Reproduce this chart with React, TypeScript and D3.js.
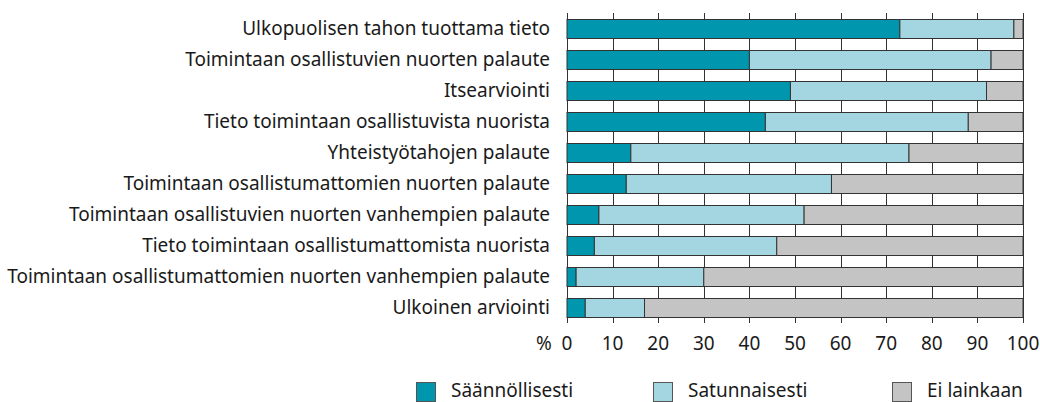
import React, { useEffect, useRef } from 'react';
import * as d3 from 'd3';

const categories = [
  'Ulkopuolisen tahon tuottama tieto',
  'Toimintaan osallistuvien nuorten palaute',
  'Itsearviointi',
  'Tieto toimintaan osallistuvista nuorista',
  'Yhteistyötahojen palaute',
  'Toimintaan osallistumattomien nuorten palaute',
  'Toimintaan osallistuvien nuorten vanhempien palaute',
  'Tieto toimintaan osallistumattomista nuorista',
  'Toimintaan osallistumattomien nuorten vanhempien palaute',
  'Ulkoinen arviointi',
];

const seriesNames = ['Säännöllisesti', 'Satunnaisesti', 'Ei lainkaan'];

const saannollisesti = [73, 40, 49, 43.5, 14, 13, 7, 6, 2, 4];
const satunnaisesti = [25, 53, 43, 44.5, 61, 45, 45, 40, 28, 13];
const eiLainkaan = [2, 7, 8, 12, 25, 42, 48, 54, 70, 83];

const xTicks = [0, 10, 20, 30, 40, 50, 60, 70, 80, 90, 100];

const colors = ['#0097ae', '#a3d6e0', '#c4c4c4'];

const FONT = "'Noto Sans', sans-serif";

function App() {
  const ref = useRef<SVGSVGElement | null>(null);

  useEffect(() => {
    const width = 1040;
    const height = 402;
    const margin = { top: 13, left: 567, right: 17, bottom: 79 };
    const w = width - margin.left - margin.right;
    const h = height - margin.top - margin.bottom;

    const svg = d3.select(ref.current);
    svg.selectAll('*').remove();
    svg.attr('width', width).attr('height', height);

    const chart = svg.append('g')
      .attr('transform', `translate(${margin.left},${margin.top})`);

    const x = d3.scaleLinear().domain([0, 100]).range([0, w]);
    const y = d3.scaleBand<string>()
      .domain(categories)
      .range([0, h])
      .paddingInner(0.387)
      .paddingOuter(0.194);

    // vertical grid lines
    chart.selectAll('.grid')
      .data(xTicks)
      .enter().append('line')
      .attr('x1', (d) => Math.round(x(d)) + 0.5)
      .attr('x2', (d) => Math.round(x(d)) + 0.5)
      .attr('y1', 0)
      .attr('y2', h)
      .attr('stroke', '#333')
      .attr('stroke-width', 1);

    const stackData = categories.map((c, i) => ({
      cat: c,
      s0: saannollisesti[i],
      s1: satunnaisesti[i],
      s2: eiLainkaan[i],
    }));
    const series = d3.stack<any>().keys(['s0', 's1', 's2'])(stackData);

    series.forEach((s, si) => {
      chart.selectAll(`.bar-${si}`)
        .data(s)
        .enter().append('rect')
        .attr('x', (d) => x(d[0]))
        .attr('width', (d) => x(d[1]) - x(d[0]))
        .attr('y', (d) => Math.round(y(d.data.cat) as number) + 0.5)
        .attr('height', Math.round(y.bandwidth()))
        .attr('fill', colors[si])
        .attr('stroke', '#333')
        .attr('stroke-width', 1);
    });

    // category labels
    chart.selectAll('.cat')
      .data(categories)
      .enter().append('text')
      .attr('x', -17)
      .attr('y', (d) => (y(d) as number) + y.bandwidth() / 2)
      .attr('dy', '0.35em')
      .attr('text-anchor', 'end')
      .style('font-family', FONT)
      .style('font-size', '19px')
      .style('fill', '#1a1a1a')
      .text((d) => d);

    // x tick labels
    chart.selectAll('.tick-label')
      .data(xTicks)
      .enter().append('text')
      .attr('x', (d) => x(d))
      .attr('y', h + 20)
      .attr('dy', '0.35em')
      .attr('text-anchor', 'middle')
      .style('font-family', FONT)
      .style('font-size', '19px')
      .style('fill', '#1a1a1a')
      .text((d) => d);

    chart.append('text')
      .attr('x', -23)
      .attr('y', h + 20)
      .attr('dy', '0.35em')
      .attr('text-anchor', 'middle')
      .style('font-family', FONT)
      .style('font-size', '19px')
      .style('fill', '#1a1a1a')
      .text('%');

    // legend
    const legendX = [416, 653, 892];
    const legend = svg.selectAll('.legend')
      .data(seriesNames)
      .enter().append('g')
      .attr('transform', (d, i) => `translate(${legendX[i]},382)`);
    legend.append('rect')
      .attr('x', 0.5)
      .attr('y', 0.5)
      .attr('width', 19)
      .attr('height', 19)
      .attr('fill', (d, i) => colors[i])
      .attr('stroke', '#555');
    legend.append('text')
      .attr('x', 35)
      .attr('y', 8)
      .attr('dy', '0.35em')
      .style('font-family', FONT)
      .style('font-size', '19px')
      .style('fill', '#1a1a1a')
      .text((d) => d);
  }, []);

  return (
    <svg ref={ref} style={{ position: 'absolute', left: 0, top: 0, background: '#fff' }} />
  );
}

export default App;
